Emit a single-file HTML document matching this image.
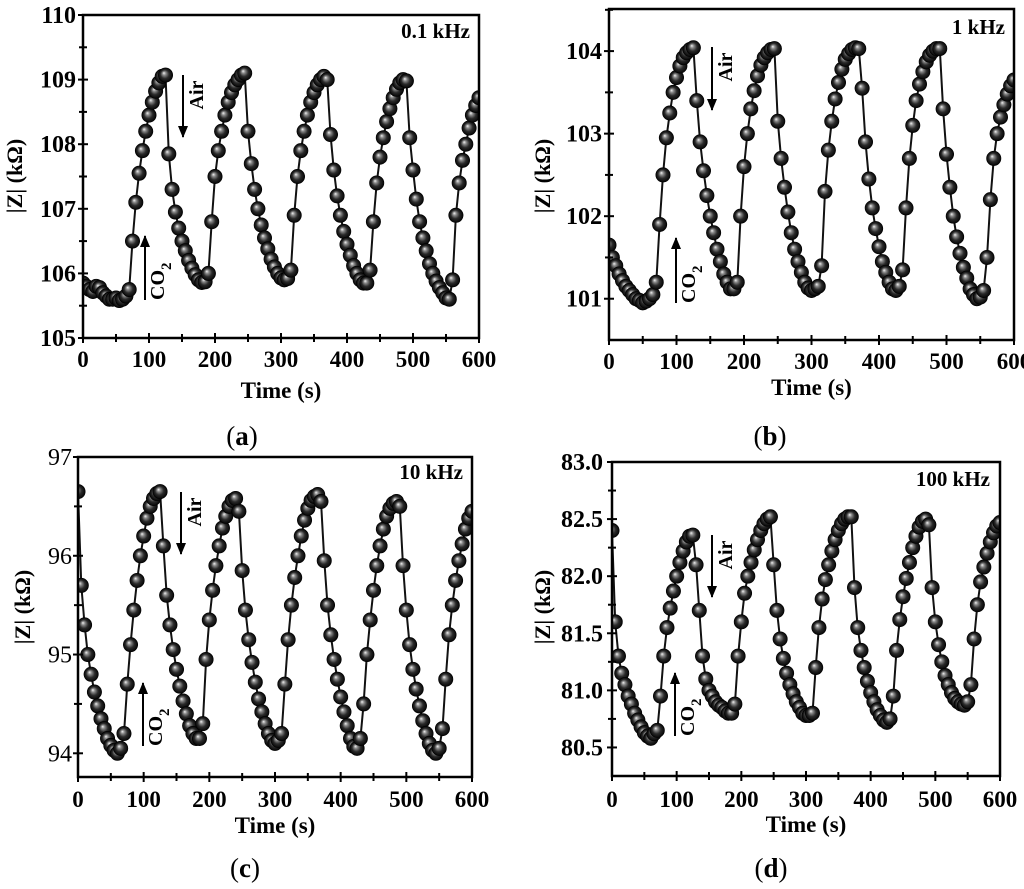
<!DOCTYPE html>
<html><head><meta charset="utf-8"><style>
html,body{margin:0;padding:0;background:#fff;}
svg{display:block;font-family:"Liberation Serif",serif;}
</style></head><body>
<svg id="fig" width="1024" height="889" viewBox="0 0 1024 889" xmlns="http://www.w3.org/2000/svg">
<defs>
<radialGradient id="ball" cx="0.5" cy="0.5" r="0.5" fx="0.38" fy="0.35">
<stop offset="0" stop-color="#f4f4f4"/><stop offset="0.25" stop-color="#8a8a8a"/><stop offset="0.6" stop-color="#2a2a2a"/><stop offset="1" stop-color="#050505"/>
</radialGradient>
<marker id="ah" markerWidth="12" markerHeight="10" refX="11" refY="5" orient="auto" markerUnits="userSpaceOnUse"><path d="M0,0 L12,5 L0,10 Z" fill="#000"/></marker>
</defs>
</svg>
<script>
const times = [0,5,10,15,20,25,30,35,40,45,50,55,60,65,70,75,80,85,90,95,100,105,110,115,120,125,130,135,140,145,150,155,160,165,170,175,180,185,190,195,200,205,210,215,220,225,230,235,240,245,250,255,260,265,270,275,280,285,290,295,300,305,310,315,320,325,330,335,340,345,350,355,360,365,370,375,380,385,390,395,400,405,410,415,420,425,430,435,440,445,450,455,460,465,470,475,480,485,490,495,500,505,510,515,520,525,530,535,540,545,550,555,560,565,570,575,580,585,590,595,600];
const seriesA = [105.85,105.8,105.75,105.72,105.8,105.78,105.7,105.65,105.6,105.6,105.62,105.58,105.6,105.65,105.75,106.5,107.1,107.55,107.9,108.2,108.45,108.65,108.82,108.95,109.05,109.07,
107.85,107.3,106.95,106.7,106.5,106.35,106.2,106.08,105.98,105.9,105.86,105.87,106.0,
106.8,107.5,107.9,108.2,108.45,108.65,108.8,108.92,109.0,109.07,109.1,
108.2,107.7,107.3,107.0,106.75,106.55,106.38,106.22,106.1,106.0,105.93,105.9,105.92,106.05,
106.9,107.5,107.9,108.2,108.45,108.65,108.8,108.92,109.0,109.05,109.0,
108.15,107.6,107.2,106.9,106.65,106.45,106.28,106.12,106.0,105.9,105.85,105.85,106.05,
106.8,107.4,107.8,108.1,108.35,108.55,108.72,108.85,108.95,109.0,108.98,
108.1,107.6,107.15,106.8,106.55,106.35,106.15,106.0,105.88,105.78,105.7,105.62,105.6,105.9,
106.9,107.4,107.75,108.0,108.25,108.45,108.6,108.72];
const seriesB = [101.65,101.5,101.4,101.3,101.22,101.15,101.1,101.05,101.0,100.98,100.95,100.97,101.0,101.05,101.2,101.9,102.5,102.95,103.25,103.5,103.68,103.82,103.92,103.98,104.02,104.04,
103.4,102.9,102.55,102.25,102.0,101.8,101.6,101.45,101.3,101.2,101.12,101.12,101.2,
102.0,102.6,103.0,103.3,103.52,103.7,103.83,103.92,103.98,104.02,104.03,
103.15,102.7,102.35,102.05,101.8,101.6,101.45,101.32,101.2,101.13,101.1,101.12,101.15,101.4,
102.3,102.8,103.15,103.42,103.62,103.78,103.9,103.97,104.02,104.04,104.03,
103.55,102.9,102.45,102.1,101.85,101.63,101.45,101.32,101.2,101.12,101.1,101.15,101.35,
102.1,102.7,103.1,103.4,103.6,103.75,103.87,103.95,104.0,104.03,104.03,
103.3,102.75,102.35,102.0,101.75,101.55,101.38,101.25,101.12,101.05,101.0,101.02,101.1,101.5,
102.2,102.7,103.0,103.2,103.35,103.48,103.58,103.65];
const seriesC = [96.65,95.7,95.3,95.0,94.8,94.62,94.48,94.35,94.25,94.15,94.08,94.03,94.0,94.05,94.2,94.7,95.1,95.45,95.75,96.0,96.2,96.38,96.5,96.58,96.63,96.65,
96.1,95.6,95.3,95.05,94.85,94.68,94.53,94.4,94.28,94.2,94.15,94.15,94.3,
94.95,95.35,95.65,95.9,96.1,96.28,96.4,96.5,96.56,96.58,96.45,
95.85,95.45,95.15,94.92,94.72,94.55,94.42,94.3,94.2,94.13,94.1,94.13,94.2,
94.7,95.15,95.5,95.78,96.0,96.2,96.36,96.48,96.56,96.6,96.62,96.55,
95.95,95.5,95.2,94.95,94.75,94.57,94.42,94.28,94.15,94.07,94.05,94.15,94.5,
95.0,95.35,95.65,95.9,96.1,96.27,96.4,96.48,96.53,96.55,96.5,
95.9,95.45,95.1,94.85,94.65,94.48,94.33,94.2,94.1,94.03,94.0,94.05,94.25,
94.75,95.2,95.5,95.75,95.95,96.12,96.27,96.38,96.45];
const seriesD = [82.4,81.6,81.3,81.15,81.05,80.95,80.88,80.8,80.74,80.68,80.63,80.6,80.58,80.62,80.65,80.95,81.3,81.55,81.72,81.87,82.0,82.12,82.22,82.3,82.35,82.36,
82.1,81.7,81.3,81.1,81.0,80.95,80.9,80.87,80.85,80.82,80.8,80.8,80.88,
81.3,81.6,81.85,82.0,82.12,82.23,82.32,82.4,82.46,82.5,82.52,
82.1,81.7,81.45,81.28,81.15,81.05,80.97,80.9,80.85,80.8,80.78,80.78,80.8,
81.2,81.55,81.8,81.97,82.1,82.22,82.32,82.4,82.46,82.5,82.52,82.52,
81.9,81.55,81.35,81.2,81.08,80.98,80.9,80.83,80.78,80.74,80.72,80.75,80.95,
81.35,81.62,81.82,81.98,82.12,82.25,82.35,82.43,82.48,82.5,82.45,
81.9,81.6,81.4,81.25,81.13,81.05,80.98,80.93,80.9,80.88,80.87,80.9,81.05,
81.45,81.75,81.95,82.08,82.2,82.3,82.38,82.44,82.47];
const xTickLabels = ["0","100","200","300","400","500","600"];
const yTicksA = [105,106,107,108,109,110];
const yTicksB = [101,102,103,104];
const yTicksC = [94,95,96,97];
const yTicksD = [80.5,81.0,81.5,82.0,82.5,83.0];
const freqLabels = ["0.1 kHz","1 kHz","10 kHz","100 kHz"];

const NS="http://www.w3.org/2000/svg";
const svg=document.getElementById('fig');
function mk(tag,attrs,parent){const e=document.createElementNS(NS,tag);for(const k in attrs)e.setAttribute(k,attrs[k]);(parent||svg).appendChild(e);return e;}

const panels=[
 {id:'a',data:seriesA,ticks:yTicksA,dec:0,L:83,R:479,T:15,B:338,ymin:105,ymax:110,boldY:true,freq:freqLabels[0],fx:470,fy:38,
  xlabY:367,xtY:398,ytX:22,ytY:176,ylabR:76,co2:[145,300,236],air:[183,75,137],sub:[242,445]},
 {id:'b',data:seriesB,ticks:yTicksB,dec:0,L:609,R:1014,T:9,B:340,ymin:100.5,ymax:104.51,boldY:true,freq:freqLabels[1],fx:1005,fy:34,
  xlabY:369,xtY:395,ytX:550,ytY:176,ylabR:602,co2:[676,303,238],air:[712,47,110],sub:[770,445]},
 {id:'c',data:seriesC,ticks:yTicksC,dec:0,L:78,R:472,T:457,B:777,ymin:93.76,ymax:97,boldY:false,freq:freqLabels[2],fx:463,fy:479,
  xlabY:807,xtY:833,ytX:30,ytY:607,ylabR:72,co2:[143,746,683],air:[181,492,554],sub:[245,877]},
 {id:'d',data:seriesD,ticks:yTicksD,dec:1,L:612,R:1000,T:462,B:776,ymin:80.25,ymax:83.0,boldY:true,freq:freqLabels[3],fx:990,fy:486,
  xlabY:807,xtY:832,ytX:550,ytY:607,ylabR:603,co2:[675,736,673],air:[712,535,597],sub:[771,877]}
];

panels.forEach(p=>{
  const g=mk('g',{});
  
  
  const xs=t=>p.L+(t/600)*(p.R-p.L);
  const ys=v=>p.B-(v-p.ymin)/(p.ymax-p.ymin)*(p.B-p.T);
  const clipId='clip'+p.id;
  const cp=mk('clipPath',{id:clipId},g);
  mk('rect',{x:p.L,y:p.T,width:p.R-p.L,height:p.B-p.T},cp);
  let d='';
  p.data.forEach((v,i)=>{d+=(i?'L':'M')+xs(times[i]).toFixed(1)+','+ys(v).toFixed(1);});
  const ln=mk('path',{d:d,fill:'none',stroke:'#111','stroke-width':2,'clip-path':'url(#'+clipId+')'},g);
  
  
  const mg=mk('g',{'clip-path':'url(#'+clipId+')'},g);
  
  
  p.data.forEach((v,i)=>{
    const c=mk('circle',{cx:xs(times[i]),cy:ys(v),r:7.2,fill:'url(#ball)',stroke:'#000','stroke-width':0.6},mg);
    
    
  });
  const fr=mk('rect',{x:p.L,y:p.T,width:p.R-p.L,height:p.B-p.T,fill:'none',stroke:'#000','stroke-width':2.5},g);
  
  
  xTickLabels.forEach((lab,i)=>{
    const t=+lab; const x=xs(t);
    mk('line',{x1:x,y1:p.B-5,x2:x,y2:p.B+5,stroke:'#000','stroke-width':2},g);
    const tx=mk('text',{x:x,y:p.xlabY,'text-anchor':'middle','font-size':23,'font-weight':'bold'},g);
    tx.textContent=lab;
    
    
    if(i<xTickLabels.length-1){const xm=xs(t+50);mk('line',{x1:xm,y1:p.B-4,x2:xm,y2:p.B+4,stroke:'#000','stroke-width':2},g);}
  });
  const step=p.ticks[1]-p.ticks[0];
  p.ticks.forEach(v=>{
    const y=ys(v);
    mk('line',{x1:p.L-5,y1:y,x2:p.L+5,y2:y,stroke:'#000','stroke-width':2},g);
    const tx=mk('text',{x:p.ylabR,y:y+8,'text-anchor':'end','font-size':24,'font-weight':p.boldY?'bold':'normal'},g);
    tx.textContent=v.toFixed(p.dec);
    
    
    const vm=v+step/2;
    if(vm<p.ymax){const ym=ys(vm);mk('line',{x1:p.L-4,y1:ym,x2:p.L+4,y2:ym,stroke:'#000','stroke-width':2},g);}
  });
  const xt=mk('text',{x:(p.L+p.R)/2,y:p.xtY,'text-anchor':'middle','font-size':23,'font-weight':'bold'},g);
  xt.textContent='Time (s)';
  
  
  const yt=mk('text',{x:p.ytX,y:p.ytY,'text-anchor':'middle','font-size':22,'font-weight':'bold',transform:'rotate(-90 '+p.ytX+' '+p.ytY+')'},g);
  yt.textContent='|Z| (kΩ)';
  
  
  const fq=mk('text',{x:p.fx,y:p.fy,'text-anchor':'end','font-size':21,'font-weight':'bold'},g);
  fq.textContent=p.freq;
  
  
  const ca=mk('line',{x1:p.co2[0],y1:p.co2[1],x2:p.co2[0],y2:p.co2[2],stroke:'#000','stroke-width':2,'marker-end':'url(#ah)'},g);
  
  
  const cxp=p.co2[0]+19, cyp=Math.max(p.co2[1],p.co2[2]);
  const ct=mk('text',{x:cxp,y:cyp,'font-size':20,'font-weight':'bold',transform:'rotate(-90 '+cxp+' '+cyp+')'},g);
  ct.innerHTML='CO<tspan dy="7" font-size="15">2</tspan>';
  
  
  const aa=mk('line',{x1:p.air[0],y1:p.air[1],x2:p.air[0],y2:p.air[2],stroke:'#000','stroke-width':2,'marker-end':'url(#ah)'},g);
  
  
  const axp=p.air[0]+20, ayp=p.air[1]+20;
  const at=mk('text',{x:axp,y:ayp,'font-size':20,'font-weight':'bold','text-anchor':'middle',transform:'rotate(-90 '+axp+' '+ayp+')'},g);
  at.textContent='Air';
  
  
  const sb=mk('text',{x:p.sub[0],y:p.sub[1],'text-anchor':'middle','font-size':27},g);
  sb.innerHTML='(<tspan font-weight="bold">'+p.id+'</tspan>)';
  
  
});
</script>
</body></html>
